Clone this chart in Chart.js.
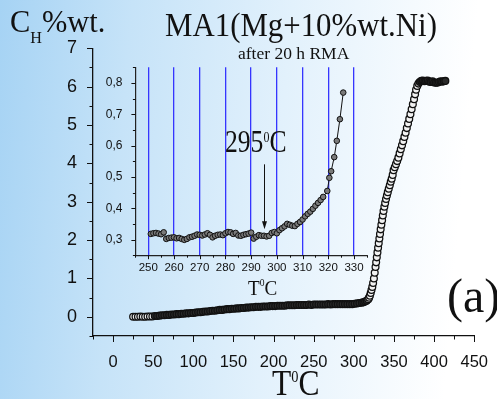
<!DOCTYPE html>
<html>
<head>
<meta charset="utf-8">
<script src="https://cdn.jsdelivr.net/npm/chart.js@4.4.0/dist/chart.umd.min.js"></script>
<style>
  html, body { margin: 0; padding: 0; }
  body {
    width: 497px; height: 399px; overflow: hidden; position: relative;
    background: linear-gradient(95deg, #a6d3f4 0%, #c6e3f8 25%, #e2f1fc 55%, #ffffff 90%);
  }
  canvas { position: absolute; }
  #main { left: 0; top: 0; }
  #inset { left: 95px; top: 55px; }
  .txt {
    position: absolute; white-space: nowrap; line-height: 1; color: #111;
    font-family: 'Liberation Serif', 'Times New Roman', serif;
    transform-origin: 0 0;
  }
</style>
</head>
<body>
<canvas id="main" width="497" height="399"></canvas>
<canvas id="inset" width="280" height="225"></canvas>

<div class="txt" style="left:10px;top:5px;font-size:32px;transform:scaleX(0.95)">C<span style="font-size:17px;position:relative;top:11px">H</span>%wt.</div>
<div class="txt" style="left:165px;top:9px;font-size:33px;transform:scaleX(0.935)">MA1(Mg+10%wt.Ni)</div>
<div class="txt" style="left:238px;top:45px;font-size:17.5px">after 20 h RMA</div>
<div class="txt" style="left:225px;top:125px;font-size:32px;transform:scaleX(0.8)">295<span style="font-size:15px;position:relative;top:-10px">0</span>C</div>
<div class="txt" style="left:248px;top:277px;font-size:22px;transform:scaleX(0.87)">T<span style="font-size:11px;position:relative;top:-9px">0</span>C</div>
<div class="txt" style="left:272px;top:366px;font-size:35px;transform:scaleX(0.9)">T<span style="font-size:16px;position:relative;top:-13px">0</span>C</div>
<div class="txt" style="left:447px;top:272px;font-size:48px">(a)</div>

<script>
// Main curve: hydrogen content C_H (%wt.) vs temperature (T, deg C)
const mainTemp = [
  25, 28, 31, 34, 37, 40, 43, 46, 49, 52, 55, 58, 61, 64, 67, 70, 73, 76, 79, 82,
  85, 88, 91, 94, 97, 100, 103, 106, 109, 112, 115, 118, 121, 124, 127, 130, 133, 136, 139, 142,
  145, 148, 151, 154, 157, 160, 163, 166, 169, 172, 175, 178, 181, 184, 187, 190, 193, 196, 199, 202,
  205, 208, 211, 214, 217, 220, 223, 226, 229, 232, 235, 238, 241, 244, 247, 250, 253, 256, 259, 262,
  265, 268, 271, 274, 277, 280, 283, 286, 289, 292, 295, 298, 301, 304, 307, 310,
  312, 314, 316, 318, 319, 320, 321, 322, 323, 324, 325, 326, 327, 327.8, 328.6, 329.4, 330.2, 331,
  331.8, 332.6, 333.4, 334.3, 335.2, 336.1, 337, 338, 339, 340.1, 341.2, 342.3, 343.5, 344.8, 346, 347.2,
  348.4, 349.5, 351, 352.5, 354, 355.5, 357, 358.5, 360, 361.5, 363, 364.5, 366, 367.5, 369, 370.5,
  372, 373.5, 375, 376.3, 377.5, 379, 380.5, 382, 384, 386, 388, 390, 392, 394, 396, 398,
  400, 402, 404, 406, 408, 410, 412, 414
];
const mainCH = [
  0.00, 0.00, 0.00, 0.01, 0.00, 0.00, 0.01, 0.01, 0.01, 0.02, 0.02, 0.03, 0.04, 0.04, 0.05, 0.05, 0.06, 0.06, 0.07, 0.07,
  0.08, 0.08, 0.09, 0.09, 0.10, 0.10, 0.11, 0.12, 0.12, 0.13, 0.14, 0.14, 0.15, 0.16, 0.16, 0.17, 0.18, 0.18, 0.19, 0.20,
  0.20, 0.21, 0.21, 0.22, 0.22, 0.23, 0.23, 0.24, 0.24, 0.25, 0.25, 0.26, 0.26, 0.26, 0.27, 0.27, 0.27, 0.28, 0.28, 0.28,
  0.29, 0.29, 0.29, 0.29, 0.30, 0.30, 0.30, 0.30, 0.31, 0.31, 0.31, 0.31, 0.31, 0.32, 0.31, 0.32, 0.32, 0.32, 0.32, 0.32,
  0.32, 0.33, 0.32, 0.33, 0.33, 0.33, 0.33, 0.33, 0.33, 0.33, 0.33, 0.33, 0.34, 0.35, 0.36, 0.37,
  0.38, 0.40, 0.42, 0.46, 0.50, 0.55, 0.62, 0.70, 0.78, 0.88, 1.00, 1.15, 1.30, 1.42, 1.55, 1.68, 1.80, 1.92,
  2.04, 2.16, 2.28, 2.40, 2.52, 2.64, 2.76, 2.87, 2.97, 3.07, 3.16, 3.25, 3.34, 3.43, 3.52, 3.60,
  3.70, 3.82, 3.90, 3.98, 4.06, 4.15, 4.26, 4.37, 4.47, 4.58, 4.69, 4.80, 4.92, 5.04, 5.16, 5.28,
  5.41, 5.54, 5.67, 5.80, 5.92, 6.02, 6.08, 6.12, 6.15, 6.16, 6.14, 6.15, 6.16, 6.13, 6.12, 6.14,
  6.11, 6.10, 6.10, 6.12, 6.14, 6.13, 6.14, 6.15
];

// Inset: zoom of the onset region (decimal comma labels)
const insetTemp = [
  251, 252, 253, 254, 255, 256, 257, 258, 259, 260, 261, 262, 263, 264, 265, 266, 267, 268, 269, 270,
  271, 272, 273, 274, 275, 276, 277, 278, 279, 280, 281, 282, 283, 284, 285, 286, 287, 288, 289, 290,
  291, 292, 293, 294, 295, 296, 297, 298, 299, 300, 301, 302, 303, 304, 305, 306, 307, 308, 309, 310,
  311, 312, 313, 314, 315, 316, 317, 318, 319.6, 320.4, 321.1, 322.3, 323.3, 324.5, 325.8
];
const insetCH = [
  0.318, 0.320, 0.321, 0.319, 0.317, 0.323, 0.302, 0.305, 0.306, 0.307, 0.304, 0.305, 0.302, 0.299, 0.302, 0.307, 0.309, 0.312, 0.316, 0.315,
  0.313, 0.316, 0.320, 0.315, 0.307, 0.312, 0.315, 0.316, 0.314, 0.320, 0.324, 0.323, 0.318, 0.321, 0.313, 0.312, 0.315, 0.317, 0.319, 0.322,
  0.303, 0.309, 0.314, 0.312, 0.312, 0.310, 0.312, 0.321, 0.324, 0.320, 0.330, 0.336, 0.342, 0.350, 0.347, 0.344, 0.343, 0.350, 0.356, 0.364,
  0.374, 0.382, 0.389, 0.398, 0.408, 0.417, 0.426, 0.436, 0.455, 0.497, 0.518, 0.563, 0.615, 0.684, 0.769
];

// Arrow marking the onset temperature in the inset
const onsetTemp = 295;
const arrowFrom = 0.54;
const arrowTo = 0.333;

const sansFamily = "'Liberation Sans', Arial, sans-serif";

function toPoints(xs, ys) {
  return xs.map((x, i) => ({ x: x, y: ys[i] }));
}

// Dense stretches of the record overlap into a dark band
function mainPointFill(c) {
  const p = c.raw;
  if (!p) return '#f2f2f2';
  if ((p.x > 50 && p.x < 318) || p.x > 381) return '#2a2a2a';
  return '#f2f2f2';
}

// Draw tick marks with long (labelled) and short (unlabelled) lengths
const tickMarks = {
  id: 'tickMarks',
  afterDraw(chart, args, opts) {
    const ctx = chart.ctx;
    const xs = chart.scales.x;
    const ys = chart.scales.y;
    ctx.save();
    ctx.strokeStyle = '#111';
    ctx.lineWidth = opts.width;
    ctx.beginPath();
    xs.ticks.forEach((t) => {
      const px = Math.round(xs.getPixelForValue(t.value)) + 0.5;
      const len = t.label !== '' ? opts.major : opts.minor;
      ctx.moveTo(px, xs.top);
      ctx.lineTo(px, xs.top + len);
    });
    ys.ticks.forEach((t) => {
      const py = Math.round(ys.getPixelForValue(t.value)) + 0.5;
      const len = t.label !== '' ? opts.major : opts.minor;
      ctx.moveTo(ys.right, py);
      ctx.lineTo(ys.right - len, py);
    });
    ctx.stroke();
    ctx.restore();
  },
};

// Arrow in the inset pointing at the onset
const onsetArrow = {
  id: 'onsetArrow',
  afterDatasetsDraw(chart) {
    const ctx = chart.ctx;
    const x = Math.round(chart.scales.x.getPixelForValue(onsetTemp)) + 0.5;
    const y1 = chart.scales.y.getPixelForValue(arrowFrom);
    const y2 = chart.scales.y.getPixelForValue(arrowTo);
    ctx.save();
    ctx.strokeStyle = '#111';
    ctx.fillStyle = '#111';
    ctx.lineWidth = 1;
    ctx.beginPath();
    ctx.moveTo(x, y1);
    ctx.lineTo(x, y2 - 6);
    ctx.stroke();
    ctx.beginPath();
    ctx.moveTo(x - 2.5, y2 - 8);
    ctx.lineTo(x + 2.5, y2 - 8);
    ctx.lineTo(x, y2);
    ctx.closePath();
    ctx.fill();
    ctx.restore();
  },
};

new Chart(document.getElementById('main').getContext('2d'), {
  type: 'scatter',
  data: {
    datasets: [
      {
        data: toPoints(mainTemp, mainCH),
        pointRadius: 3.4,
        pointBackgroundColor: mainPointFill,
        pointBorderColor: '#111',
        pointBorderWidth: 1.3,
        showLine: false,
      },
    ],
  },
  options: {
    responsive: false,
    animation: false,
    layout: { padding: { left: 0, top: 48.3, right: 14.5, bottom: 0 } },
    plugins: {
      legend: { display: false },
      tooltip: { enabled: false },
      tickMarks: { major: 6, minor: 3.5, width: 1 },
    },
    scales: {
      x: {
        type: 'linear',
        min: -25,
        max: 450,
        afterFit: (scale) => { scale.height = 63; },
        grid: { display: false },
        border: { display: true, color: '#111', width: 1.3 },
        ticks: {
          stepSize: 25,
          autoSkip: false,
          maxRotation: 0,
          padding: 9,
          color: '#111',
          font: { family: sansFamily, size: 16.5 },
          callback: (v) => (v % 50 === 0 ? String(v) : ''),
        },
      },
      y: {
        type: 'linear',
        min: -0.5,
        max: 7,
        afterFit: (scale) => { scale.width = 93; },
        grid: { display: false },
        border: { display: true, color: '#111', width: 1.3 },
        ticks: {
          stepSize: 0.5,
          autoSkip: false,
          padding: 8,
          color: '#111',
          font: { family: sansFamily, size: 18 },
          callback: (v) => (Number.isInteger(v) ? String(v) : ''),
        },
      },
    },
  },
  plugins: [tickMarks],
});

new Chart(document.getElementById('inset').getContext('2d'), {
  type: 'scatter',
  data: {
    datasets: [
      {
        data: toPoints(insetTemp, insetCH),
        showLine: true,
        borderColor: '#111',
        borderWidth: 1,
        pointRadius: 2.8,
        pointBackgroundColor: '#7a7a7a',
        pointBorderColor: '#111',
        pointBorderWidth: 1,
      },
    ],
  },
  options: {
    responsive: false,
    animation: false,
    layout: { padding: { left: 0, top: 9.8, right: 8.1, bottom: 0 } },
    plugins: {
      legend: { display: false },
      tooltip: { enabled: false },
      tickMarks: { major: 4, minor: 2.5, width: 1 },
    },
    scales: {
      x: {
        type: 'linear',
        min: 245,
        max: 335,
        afterFit: (scale) => { scale.height = 24.8; },
        grid: {
          display: true,
          drawOnChartArea: true,
          drawTicks: false,
          lineWidth: 1.3,
          color: (c) => (c.tick && c.tick.value % 10 === 0 ? '#3535ff' : 'rgba(0,0,0,0)'),
        },
        border: { display: true, color: '#222', width: 1.2 },
        ticks: {
          stepSize: 5,
          autoSkip: false,
          maxRotation: 0,
          padding: 6,
          color: '#111',
          font: { family: sansFamily, size: 11.5 },
          callback: (v) => (v % 10 === 0 ? String(v) : ''),
        },
      },
      y: {
        type: 'linear',
        min: 0.25,
        max: 0.85,
        afterFit: (scale) => { scale.width = 40.4; },
        grid: { display: false },
        border: { display: true, color: '#222', width: 1.2 },
        ticks: {
          stepSize: 0.05,
          autoSkip: false,
          padding: 5,
          color: '#111',
          font: { family: sansFamily, size: 12 },
          callback: (v) => {
            const r = Math.round(v * 100);
            return r % 10 === 0 ? (r / 100).toFixed(1).replace('.', ',') : '';
          },
        },
      },
    },
  },
  plugins: [tickMarks, onsetArrow],
});
</script>
</body>
</html>
